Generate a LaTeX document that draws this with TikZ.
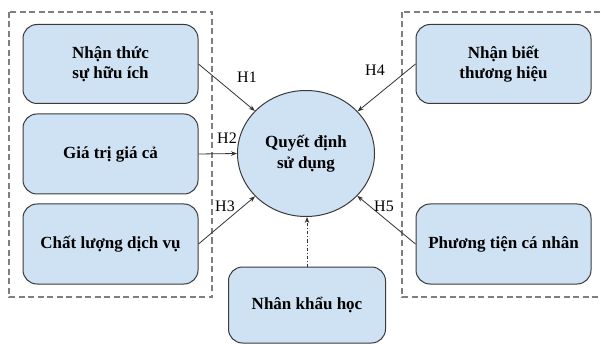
\documentclass[tikz,border=0pt]{standalone}
\usepackage{fontspec}
\setmainfont{Liberation Serif}[BoldFont={Liberation Serif Bold}]
\usetikzlibrary{arrows.meta,shapes.geometric}
\definecolor{boxfill}{HTML}{CFE2F3}
\definecolor{boxline}{HTML}{3A3A3A}
\definecolor{dashline}{HTML}{7F7F7F}
\definecolor{arrline}{HTML}{333333}
\tikzset{
  factor/.style={draw=boxline, fill=boxfill, line width=1pt, rounded corners=14pt,
    minimum width=175pt, minimum height=79pt, align=center,
    font=\fontsize{17}{20.5}\selectfont\bfseries, inner sep=0pt},
  center/.style={draw=boxline, fill=boxfill, line width=1pt, ellipse,
    minimum width=137pt, minimum height=126pt, inner sep=0pt, align=center,
    font=\fontsize{17}{20.5}\selectfont\bfseries},
  group/.style={draw=dashline, line width=1.2pt, dash pattern=on 6pt off 3.5pt},
  hyp/.style={draw=arrline, line width=0.8pt, -{Stealth[length=6pt,width=4.5pt]}},
  demo/.style={draw=arrline, line width=0.8pt, dash pattern=on 3pt off 2pt on 1pt off 2pt,
    -{Stealth[length=6pt,width=4.5pt]}},
  hlabel/.style={font=\fontsize{16}{16}\selectfont, inner sep=0pt}
}
\begin{document}
\begin{tikzpicture}[x=1pt,y=-1pt]
\useasboundingbox (0,0) rectangle (601,344);
\clip (0,0) rectangle (601,344);
\fill[white] (0,0) rectangle (601,344);
% dashed groups
\draw[group] (9,12) rectangle (212,297);
\draw[group] (402,12) rectangle (615,297);
% nodes
\node[factor] (b1) at (110.5,64) {Nhận thức\\sự hữu ích};
\node[factor, minimum height=80pt] (b2) at (110.5,154) {Giá trị giá cả};
\node[factor, minimum height=80pt] (b3) at (110.5,244) {Chất lượng dịch vụ};
\node[factor] (b4) at (503.5,64) {Nhận biết\\thương hiệu};
\node[factor, minimum height=80pt] (b5) at (503.5,244) {Phương tiện cá nhân};
\node[factor, minimum width=157pt, minimum height=76pt] (b6) at (307,305) {Nhân khẩu học};
\node[center] (c) at (306,153.5) {Quyết định\\sử dụng};
% connectors
\draw[hyp] (b1.east) -- (c);
\draw[hyp] (b2.east) -- (c.west);
\draw[hyp] (b3.east) -- (c);
\draw[hyp] (b4.west) -- (c);
\draw[hyp] (b5.west) -- (c);
\draw[demo] (b6.north) -- (b6.north |- c.south);
% labels
\node[hlabel] (h1) at (247,77) {H1};
\node[hlabel] (h2) at (227,138) {H2};
\node[hlabel] (h3) at (225,206) {H3};
\node[hlabel] (h4) at (375,70) {H4};
\node[hlabel] (h5) at (384,206) {H5};
\end{tikzpicture}
\end{document}
